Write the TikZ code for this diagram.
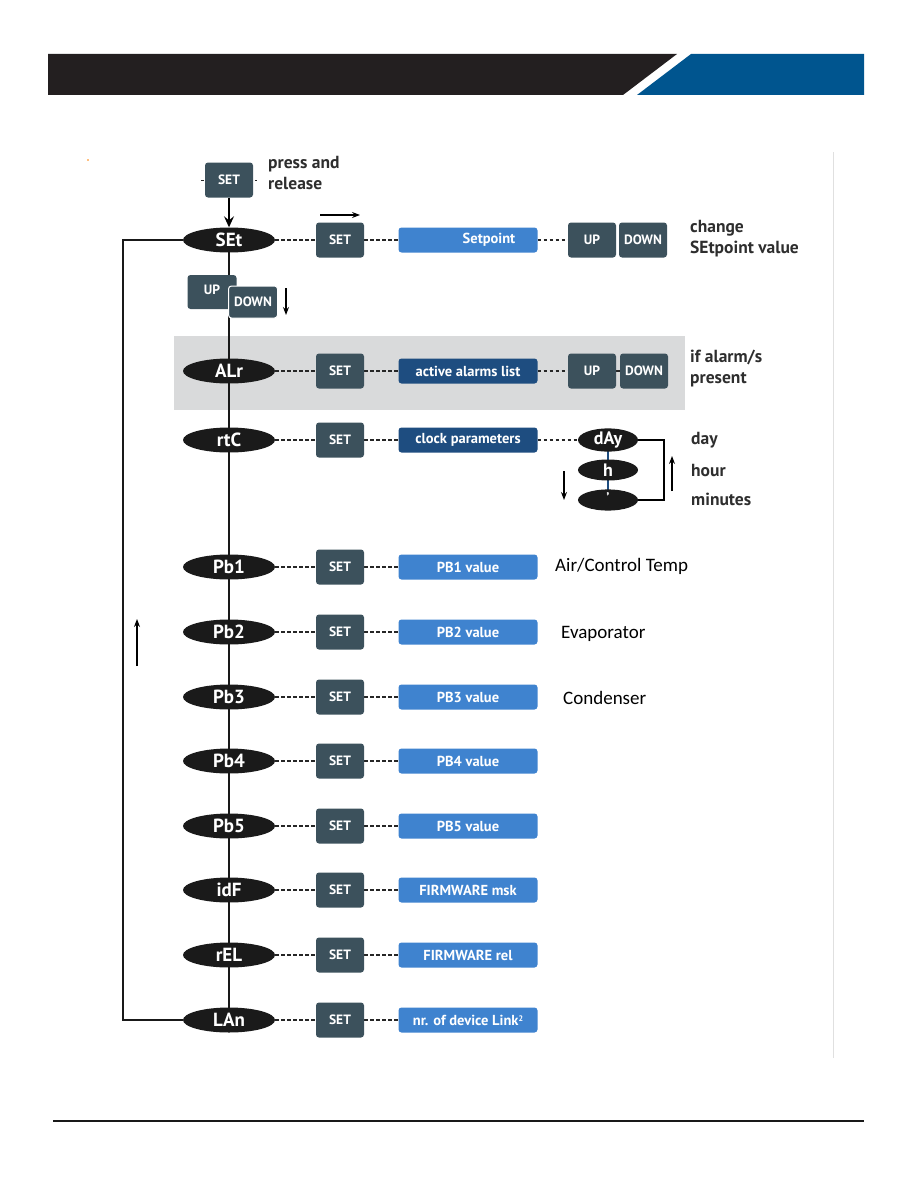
\documentclass[tikz,border=0pt]{standalone}
\usepackage{fontspec}
\setmainfont{PT Sans}
\newfontfamily\calib{Carlito}
\usetikzlibrary{arrows.meta,shapes.geometric}
\definecolor{hdrblack}{HTML}{231F20}
\definecolor{hdrblue}{HTML}{00558F}
\definecolor{slate}{HTML}{3C515C}
\definecolor{lightblue}{HTML}{3F83CF}
\definecolor{navy}{HTML}{1E4D80}
\definecolor{ovalblack}{HTML}{1A1A1A}
\definecolor{txtgray}{HTML}{2E2E2E}
\definecolor{bandgray}{HTML}{D9DADB}
\pgfdeclarelayer{bg}
\pgfsetlayers{bg,main}
\begin{document}
\begin{tikzpicture}[x=1pt,y=-1pt,
  oval/.style={ellipse,fill=ovalblack,minimum width=92pt,minimum height=25pt,inner sep=0pt,text=white,font=\bfseries\fontsize{19}{19}\selectfont},
  smalloval/.style={ellipse,fill=ovalblack,minimum width=60pt,minimum height=21pt,inner sep=0pt,text=white,font=\bfseries\fontsize{18}{18}\selectfont},
  keybox/.style={rectangle,rounded corners=3pt,fill=slate,minimum width=48pt,minimum height=35pt,inner sep=0pt,text=white,font=\bfseries\fontsize{13.5}{13.5}\selectfont},
  valbox/.style={rectangle,rounded corners=3pt,fill=lightblue,minimum width=139pt,minimum height=25pt,inner sep=0pt,text=white,font=\bfseries\fontsize{14.5}{14.5}\selectfont},
  navybox/.style={valbox,fill=navy},
  dots/.style={draw=black!85,line width=1.5pt,dash pattern=on 3.5pt off 2.5pt},
  mainline/.style={draw=black!90,line width=1.6pt},
  lbl/.style={anchor=west,align=left,text=txtgray,font=\bfseries\fontsize{17.5}{21}\selectfont,inner sep=0pt},
  plain/.style={anchor=west,text=black,font=\calib\fontsize{19}{19}\selectfont,inner sep=0pt},
  arr/.style={draw=black,line width=1.1pt,-{Stealth[length=8pt,width=6pt]}}
]
\useasboundingbox (0,0) rectangle (918,1188);
% header
\fill[hdrblack] (48,54) -- (677,54) -- (623,95) -- (48,95) -- cycle;
\fill[hdrblue] (691,54) -- (864,54) -- (864,95) -- (637,95) -- cycle;
% footer line
\draw[black!90,line width=1.2pt] (53,1121) -- (864,1121);
% faint right line
\draw[black!12,line width=0.8pt] (833,152) -- (833,1058);
% tiny orange mark
\fill[orange] (88,160) circle (0.8pt);

% top SET
\node[keybox] (top) at (229,180) {SET};
\node[lbl] (press) at (268,173) {press and\\ release};

% ovals on the main spine
\node[oval] (set) at (229,240) {SEt};
\node[oval] (alr) at (229,371) {ALr};
\node[oval] (rtc) at (229,440) {rtC};
\node[oval] (pb1) at (229,567) {Pb1};
\node[oval] (pb2) at (229,632) {Pb2};
\node[oval] (pb3) at (229,697) {Pb3};
\node[oval] (pb4) at (229,761) {Pb4};
\node[oval] (pb5) at (229,826) {Pb5};
\node[oval] (idf) at (229,890) {idF};
\node[oval] (rel) at (229,955) {rEL};
\node[oval] (lan) at (229,1020) {LAn};

% UP/DOWN under SEt
\node[keybox,minimum width=49pt,minimum height=34pt,text depth=0pt] (up0) at (212,292) {\raisebox{5pt}{UP}};
\node[keybox,draw=white,line width=1pt,minimum width=49pt,minimum height=32pt] (down0) at (253,302) {DOWN};
\coordinate (dA) at (286,288);
\coordinate (dB) at (286,315);
\draw[arr] (dA) -- (dB);

% SET boxes
\foreach \n/\y in {set/240,alr/371,rtc/440,pb1/567,pb2/632,pb3/697,pb4/761,pb5/826,idf/890,rel/955,lan/1020}{
  \node[keybox] (k\n) at (340,\y) {SET};
}
% value boxes
\node[valbox] (vset) at (468,240) {\hspace*{42pt}Setpoint};
\node[navybox] (valr) at (468,371) {active alarms list};
\node[navybox] (vrtc) at (468,440) {clock parameters};
\node[valbox] (vpb1) at (468,567) {PB1 value};
\node[valbox] (vpb2) at (468,632) {PB2 value};
\node[valbox] (vpb3) at (468,697) {PB3 value};
\node[valbox] (vpb4) at (468,761) {PB4 value};
\node[valbox] (vpb5) at (468,826) {PB5 value};
\node[valbox] (vidf) at (468,890) {FIRMWARE msk};
\node[valbox] (vrel) at (468,955) {FIRMWARE rel};
\node[valbox] (vlan) at (468,1020) {nr. of device Link\raisebox{4pt}{\fontsize{8}{8}\selectfont 2}};

% UP/DOWN right
\node[keybox] (up1) at (592,240) {UP};
\node[keybox] (down1) at (643,240) {DOWN};
\node[keybox] (up2) at (592,371) {UP};
\node[keybox] (down2) at (644,371) {DOWN};

% clock sub ovals
\node[smalloval] (day) at (608,440) {dAy};
\node[smalloval] (hr) at (608,470) {h};
\node[smalloval] (mn) at (608,500) {\raisebox{5pt}{\fontsize{14}{14}\selectfont'}};

% labels
\node[lbl] (lchange) at (690,239) {change\\ SEtpoint value};
\node[lbl] (lalarm) at (690,369) {if alarm/s\\ present};
\node[lbl] (lday) at (691,440) {day};
\node[lbl] (lhour) at (691,470) {hour};
\node[lbl] (lmin) at (691,499) {minutes};
\node[plain] (lair) at (555,566) {Air/Control Temp};
\node[plain] (levap) at (561,634) {Evaporator};
\node[plain] (lcond) at (563,698) {Condenser};

% arrows
\coordinate (aR1) at (320,215);
\coordinate (aR2) at (360,215);
\draw[arr] (aR1) -- (aR2);
\coordinate (uA) at (137,666);
\coordinate (uB) at (137,619);
\draw[arr] (uA) -- (uB);
\coordinate (cdA) at (564,471);
\coordinate (cdB) at (564,500);
\draw[arr] (cdA) -- (cdB);
\coordinate (cuA) at (672,491);
\coordinate (cuB) at (672,456);
\draw[arr] (cuA) -- (cuB);

\begin{pgfonlayer}{bg}
  % gray band
  \fill[bandgray] (174,336) rectangle (685,410);
  % spine
  \draw[mainline] (set.center) -- (lan.center);
  % return loop
  \coordinate (lx1) at (123,240);
  \coordinate (lx2) at (123,1020);
  \draw[mainline] (set.west) -- (lx1) -- (lx2) -- (lan.west);
  % top arrow
  \draw[line width=1.4pt,-{Stealth[length=11pt,width=10pt,inset=4pt]}] (top.south) -- (set.north);
  \draw[dots,line width=1pt] ([xshift=-4pt]top.west) -- ([xshift=4pt]top.east);
  % clock
  \draw[navy,line width=1.2pt] (day.center) -- (mn.center);
  \coordinate (cl1) at (664,440);
  \coordinate (cl2) at (664,500);
  \draw[black,line width=1.6pt] (day.east) -- (cl1) -- (cl2) -- (mn.east);
  % dotted rows
  \foreach \n in {set,alr,rtc,pb1,pb2,pb3,pb4,pb5,idf,rel,lan}{
    \draw[dots] (\n.east) -- (k\n.west);
    \draw[dots] (k\n.east) -- (v\n.west);
  }
  \draw[dots] (vset.east) -- (up1.west);
  \draw[dots] (valr.east) -- (up2.west);
  \draw[dots] (up2.east) -- (down2.west);
  \draw[dots] (vrtc.east) -- (day.west);
\end{pgfonlayer}
\end{tikzpicture}
\end{document}
